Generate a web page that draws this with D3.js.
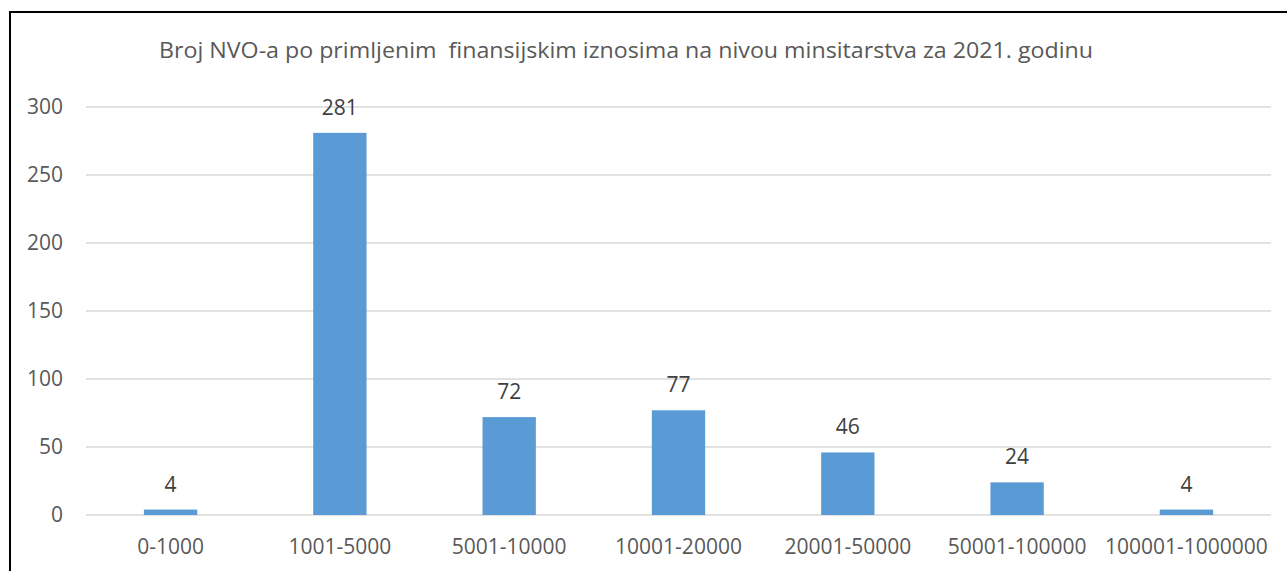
<!DOCTYPE html>
<meta charset="utf-8">
<title>Broj NVO-a</title>
<script src="https://d3js.org/d3.v7.min.js"></script>
<style>
  body { margin: 0; background: #fff; }
  text { font-family: "Open Sans", "Noto Sans", sans-serif; }
</style>
<body>
<div id="chart"></div>
<script>
// data
var categories = ["0-1000", "1001-5000", "5001-10000", "10001-20000", "20001-50000", "50001-100000", "100001-1000000"];
var counts = [4, 281, 72, 77, 46, 24, 4];
var yTicks = [0, 50, 100, 150, 200, 250, 300];
var title = "Broj NVO-a po primljenim  finansijskim iznosima na nivou minsitarstva za 2021. godinu";

var W = 1287, H = 571;
var margin = {top: 107, right: 16, bottom: 56, left: 86};
var width = W - margin.left - margin.right,
    height = H - margin.top - margin.bottom;

var svg = d3.select("#chart").append("svg")
  .attr("width", W)
  .attr("height", H);

// outer frame
svg.append("path")
  .attr("d", "M10,600 L10,12 L1300,12")
  .attr("fill", "none")
  .attr("stroke", "#000")
  .attr("stroke-width", 2);

svg.append("text")
  .attr("x", 626)
  .attr("y", 58)
  .attr("text-anchor", "middle")
  .attr("font-size", "22px")
  .attr("fill", "#595959")
  .style("white-space", "pre")
  .attr("textLength", 934)
  .attr("lengthAdjust", "spacingAndGlyphs")
  .text(title);

var g = svg.append("g")
  .attr("transform", "translate(" + margin.left + "," + margin.top + ")");

var x = d3.scaleBand()
  .domain(categories)
  .range([0, width])
  .paddingInner(0.685)
  .paddingOuter(0.342);

var y = d3.scaleLinear()
  .domain([0, 300])
  .range([height, 0]);

// gridlines
g.selectAll(".grid")
  .data(yTicks)
  .enter().append("line")
  .attr("x1", 0)
  .attr("x2", width)
  .attr("y1", function(d) { return y(d); })
  .attr("y2", function(d) { return y(d); })
  .attr("stroke", "#d9d9d9")
  .attr("stroke-width", 1.3);

// y axis
var yAxis = g.append("g")
  .call(d3.axisLeft(y).tickValues(yTicks).tickSize(0).tickPadding(23));
yAxis.select(".domain").remove();
yAxis.attr("font-size", null).attr("font-family", null);
yAxis.selectAll("text")
  .style("font-size", "21px")
  .attr("fill", "#595959");

// x axis
var xAxis = g.append("g")
  .attr("transform", "translate(0," + height + ")")
  .call(d3.axisBottom(x).tickSize(0).tickPadding(24));
xAxis.select(".domain").remove();
xAxis.attr("font-size", null).attr("font-family", null);
xAxis.selectAll("text")
  .style("font-size", "21px")
  .attr("fill", "#595959");

// bars
g.selectAll(".bar")
  .data(counts)
  .enter().append("rect")
  .attr("x", function(d, i) { return x(categories[i]); })
  .attr("y", function(d) { return y(d); })
  .attr("width", x.bandwidth())
  .attr("height", function(d) { return height - y(d); })
  .attr("fill", "#5b9bd5");

// value labels
g.selectAll(".lbl")
  .data(counts)
  .enter().append("text")
  .attr("x", function(d, i) { return x(categories[i]) + x.bandwidth() / 2; })
  .attr("y", function(d) { return y(d) - 18; })
  .attr("text-anchor", "middle")
  .style("font-size", "21px")
  .attr("fill", "#404040")
  .text(function(d) { return d; });
</script>
</body>
